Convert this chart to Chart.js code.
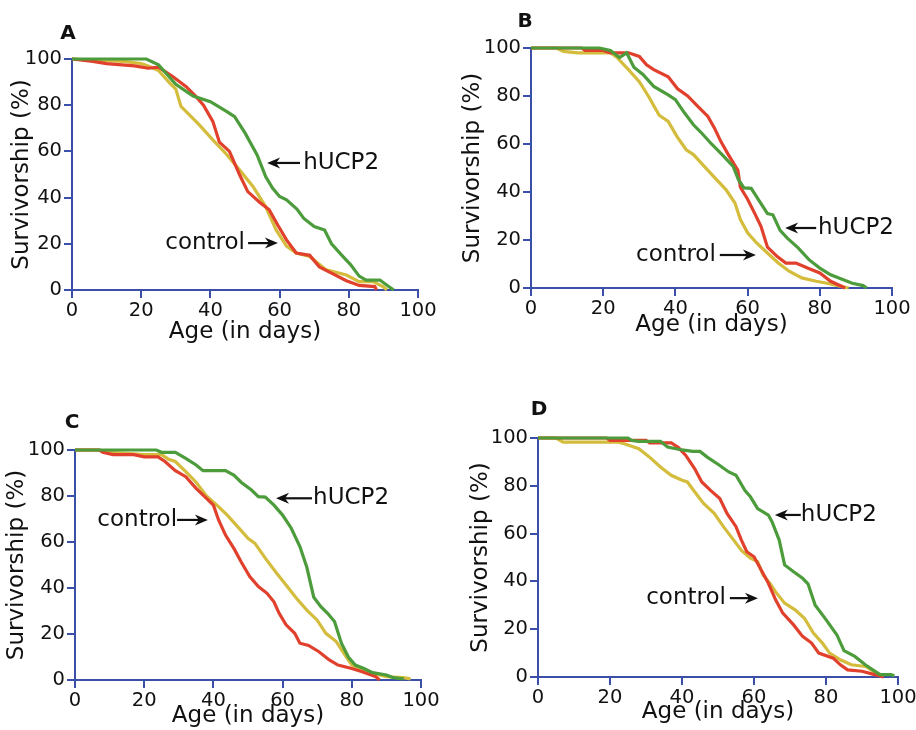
<!DOCTYPE html>
<html>
<head>
<meta charset="utf-8">
<title>Survivorship</title>
<script src="https://cdn.jsdelivr.net/npm/chart.js@4.4.1/dist/chart.umd.min.js"></script>
<style>
  body { margin: 0; background: #fff; overflow: hidden; }
  #wrap { position: relative; width: 916px; height: 730px; overflow: hidden; background: #fff; }
  canvas { position: absolute; }
</style>
</head>
<body>
<div id="wrap">
  <canvas id="chartA" width="458" height="365" style="left:0;top:0"></canvas>
  <canvas id="chartB" width="458" height="365" style="left:458px;top:0"></canvas>
  <canvas id="chartC" width="458" height="365" style="left:0;top:365px"></canvas>
  <canvas id="chartD" width="480" height="365" style="left:458px;top:365px"></canvas>
</div>
<script>
const xTicks = [0, 20, 40, 60, 80, 100];
const yTicks = [0, 20, 40, 60, 80, 100];

// panel A
const aUcpDays = [0, 21.5, 25, 30, 35, 40, 45, 47, 50, 53.5, 56, 58, 60, 62, 65, 67, 70, 73, 75, 78, 80.5, 83, 85, 89, 92, 93];
const aUcpPct = [100, 100, 97.5, 89, 84, 81.5, 77, 75, 68, 58.5, 49, 44, 40.5, 39, 35, 31, 27.5, 26, 20, 15, 11, 6, 4.3, 4.3, 1, 0];
const aCtrl1Days = [0, 6, 10, 18, 22, 25, 29, 33, 36, 38, 40.7, 42.6, 45.5, 48.4, 50.8, 54.2, 57, 59.5, 62, 64.8, 68.7, 71.5, 75.4, 79.3, 83, 87.5, 88];
const aCtrl1Pct = [100, 99, 98, 97, 96, 96.5, 92.5, 88, 83.5, 80, 73, 64, 60, 50, 42.6, 38, 34.7, 28, 21.7, 16, 15, 10, 7, 4, 2, 1.5, 0];
const aCtrl2Days = [0, 15, 20, 22, 25, 28, 30, 31.5, 36.8, 40.7, 44.5, 48.4, 52.3, 56, 59, 62, 64.8, 68.7, 73.5, 79.3, 83, 87, 90, 91];
const aCtrl2Pct = [100, 99, 98, 97, 95, 90, 87, 79.5, 71.5, 65, 59, 52, 44.8, 36, 26, 19, 16, 14.5, 8.7, 6.5, 3.6, 3.6, 1.4, 0];

// panel B
const bUcpDays = [0, 19, 22, 24.5, 26.5, 28.5, 31, 34, 38, 40, 42.5, 45, 47, 50, 53, 56, 57.5, 59, 61, 63, 65.5, 67, 69, 71, 74, 77, 80, 83, 86, 89, 92, 93];
const bUcpPct = [100, 100, 99, 96, 98, 92, 89, 84, 80.5, 78.5, 73, 68, 65, 60, 55.5, 50.7, 45, 41.7, 41.5, 36.8, 31, 30.5, 24, 20.8, 16.7, 11.8, 8.3, 5.5, 3.75, 2, 1, 0];
const bCtrl1Days = [0, 14, 15, 20, 22, 27, 30, 32, 34, 38, 40.6, 43.4, 46, 49, 50.8, 52.6, 54.5, 57.3, 58, 60, 62, 63.7, 65.5, 68.3, 70.6, 73.4, 76.6, 80, 83, 86, 87];
const bCtrl1Pct = [100, 100, 99, 99, 98, 98, 96.5, 93, 91, 88, 83, 80, 76, 71.5, 66.7, 61, 56, 49, 42, 37, 31, 25.7, 17, 13, 10.4, 10.4, 8.3, 6.25, 2.8, 0.7, 0];
const bCtrl2Days = [0, 7, 9, 13, 22, 24, 27, 30, 32.5, 35.5, 38, 40.5, 43, 45, 48, 51, 54, 56.5, 58, 60, 62.5, 65.5, 68.5, 71.5, 75, 79, 82, 85, 88];
const bCtrl2Pct = [100, 100, 98.6, 98, 98, 95.8, 91, 86, 80, 72, 69.4, 63, 57.6, 55.6, 50.7, 45.8, 41, 35.4, 28.5, 23, 18.75, 14.6, 10.4, 7, 4.2, 2.8, 2, 1, 0];

// panel C
const cUcpDays = [0, 23.5, 25, 29, 32, 35, 37, 43.5, 46, 48, 51, 53, 55, 57.5, 60, 62.5, 65, 67, 69, 71, 73, 75, 77, 79, 81, 83.5, 86, 90, 92, 95];
const cUcpPct = [100, 100, 99, 99, 96.4, 93.5, 91, 91, 89, 86, 82.6, 79.7, 79.5, 76, 71.7, 66, 58, 49, 36, 32, 29, 25.4, 16, 10, 6.5, 5, 3.2, 2.2, 1, 0.5];
const cCtrl1Days = [0, 7, 8, 11, 17, 20, 24, 26, 29, 32, 35, 38, 40, 41.5, 43.5, 46, 48, 50.5, 53, 55.5, 57.5, 59, 61, 63.5, 65, 67.5, 70.5, 73.5, 76, 80, 83, 87, 88];
const cCtrl1Pct = [100, 100, 99, 98, 98, 97, 97, 95, 91, 88.4, 83.3, 79, 76, 69.6, 63, 57, 51.4, 45, 40.6, 37.7, 34, 29, 24, 20.3, 16, 15, 12.3, 8.7, 6.5, 5, 3.6, 1.4, 0];
const cCtrl2Days = [0, 7, 10, 20, 25, 27, 29, 32, 35, 38, 41, 44, 47, 50, 52, 55, 58, 61, 64, 67, 70, 72.5, 75.5, 78, 80, 83, 86, 90, 95, 97];
const cCtrl2Pct = [100, 100, 99, 98, 98, 96, 95, 90.6, 86, 80, 76, 71.7, 66.7, 61.6, 59.4, 53, 47, 41.3, 35.5, 30.4, 26, 20.3, 16.7, 10.9, 6.5, 4.6, 2.9, 1.4, 1, 0.5];

// panel D
const dUcpDays = [0, 25, 26, 28, 34, 36, 40, 43, 45, 47, 50, 53, 55, 57.5, 59, 61, 64, 65, 67, 68.5, 71, 73.5, 75, 77, 80, 83, 85, 88, 91, 93, 95, 98, 99];
const dUcpPct = [100, 100, 99, 98.6, 98.6, 96.2, 95, 94.4, 94.4, 92, 89, 85.8, 84.4, 78, 75.4, 70.5, 67.7, 65, 57.3, 46.9, 44, 41.3, 39, 30, 24, 17.7, 11, 8.6, 5, 3, 1, 1, 0.5];
const dCtrl1Days = [0, 19, 20, 30, 31, 37, 39, 41, 43.5, 45.5, 48, 50.5, 52.5, 55, 56.5, 58, 60, 62, 64, 66, 68, 71, 73.5, 76, 78, 82, 84, 86, 90, 93, 96];
const dCtrl1Pct = [100, 100, 99, 99, 98, 98, 96, 92.8, 87.2, 81.6, 78, 74.7, 68.4, 62.9, 57.3, 52.4, 50.3, 44.8, 39.2, 32.3, 26.7, 21.8, 17, 14.2, 10, 7.9, 5.1, 3, 2.4, 1.2, 0];
const dCtrl2Days = [0, 5, 7, 22, 24, 28, 31, 34, 37, 40, 41.5, 43.5, 46, 49, 51.5, 54, 56.5, 59, 61, 62.5, 64.5, 66, 68.5, 71.5, 74, 76.5, 79, 81, 84, 87, 91, 94, 96];
const dCtrl2Pct = [100, 100, 98.3, 98.3, 97.6, 95.5, 92, 87.9, 84.4, 82.3, 81.6, 77.5, 72.6, 68.4, 62.9, 58, 53, 49.7, 48.3, 42.7, 39, 35.6, 30.9, 28, 24.6, 18.4, 14.2, 10, 7.2, 5.1, 4.4, 1.7, 0.5];

const BLUE = '#3b4fa8';
const INK = '#111111';
const GREEN = '#4c9c3c';
const RED = '#e0402c';
const YELLOW = '#d4bc3c';
const FONT = '"DejaVu Sans", sans-serif';

const zip = (xs, ys) => xs.map((x, i) => ({ x: x, y: ys[i] }));

function drawArrow(ctx, x0, x1, y) {
  const dir = Math.sign(x1 - x0);
  ctx.beginPath();
  ctx.moveTo(x0, y);
  ctx.lineTo(x1 - dir * 6, y);
  ctx.lineWidth = 2.2;
  ctx.stroke();
  ctx.beginPath();
  ctx.moveTo(x1, y);
  ctx.lineTo(x1 - dir * 13, y - 5.5);
  ctx.lineTo(x1 - dir * 9, y);
  ctx.lineTo(x1 - dir * 13, y + 5.5);
  ctx.closePath();
  ctx.fill();
}

const notesPlugin = {
  id: 'notes',
  afterDatasetsDraw(chart, args, opts) {
    const { ctx, chartArea } = chart;
    const x = chart.scales.x, y = chart.scales.y;
    ctx.save();
    ctx.fillStyle = INK;
    ctx.strokeStyle = INK;
    ctx.font = 'bold 20px ' + FONT;
    ctx.textAlign = 'center';
    ctx.textBaseline = 'alphabetic';
    ctx.fillText(opts.letter, chartArea.left + opts.letterAt[0], chartArea.top + opts.letterAt[1]);
    ctx.font = '23px ' + FONT;
    ctx.textBaseline = 'middle';
    opts.notes.forEach(n => {
      const yy = y.getPixelForValue(n.y);
      ctx.textAlign = n.align;
      ctx.fillText(n.text, x.getPixelForValue(n.textX), yy);
      drawArrow(ctx, x.getPixelForValue(n.from), x.getPixelForValue(n.to), yy);
    });
    ctx.restore();
  }
};

function makePanel(id, box, series, letter, notes) {
  new Chart(document.getElementById(id), {
    type: 'line',
    data: {
      datasets: [
        { label: 'hUCP2', data: zip(series[0], series[1]), borderColor: GREEN },
        { label: 'control', data: zip(series[2], series[3]), borderColor: RED },
        { label: 'control', data: zip(series[4], series[5]), borderColor: YELLOW }
      ].map(d => Object.assign(d, { borderWidth: 3.2, pointRadius: 0, tension: 0, fill: false, clip: false }))
    },
    options: {
      responsive: false,
      animation: false,
      layout: { padding: box.pad },
      plugins: {
        legend: { display: false },
        tooltip: { enabled: false },
        notes: { letter: letter.text, letterAt: letter.at, notes: notes }
      },
      scales: {
        x: {
          type: 'linear', min: 0, max: 100,
          afterBuildTicks: s => { s.ticks = xTicks.map(v => ({ value: v })); },
          afterFit: s => { s.height = box.xh; },
          grid: { drawOnChartArea: false, drawTicks: true, tickLength: 8, color: BLUE, lineWidth: 2 },
          border: { color: BLUE, width: 2 },
          ticks: { color: INK, font: { family: FONT, size: 19.5 }, padding: 1, maxRotation: 0 },
          title: { display: true, text: 'Age (in days)', color: INK, font: { family: FONT, size: 23 }, padding: 0 }
        },
        y: {
          type: 'linear', min: 0, max: 100,
          afterBuildTicks: s => { s.ticks = yTicks.map(v => ({ value: v })); },
          afterFit: s => { s.width = box.yw; },
          grid: { drawOnChartArea: false, drawTicks: true, tickLength: 8, color: BLUE, lineWidth: 2 },
          border: { color: BLUE, width: 2 },
          ticks: { color: INK, font: { family: FONT, size: 19.5 }, padding: 2 },
          title: { display: true, text: 'Survivorship (%)', color: INK, font: { family: FONT, size: 23 }, padding: 0 }
        }
      }
    },
    plugins: [notesPlugin]
  });
}

makePanel('chartA', { pad: { left: 8, top: 59, right: 40, bottom: 19 }, yw: 64, xh: 56 },
  [aUcpDays, aUcpPct, aCtrl1Days, aCtrl1Pct, aCtrl2Days, aCtrl2Pct],
  { text: 'A', at: [-4, -20] },
  [
    { text: 'hUCP2', align: 'left', textX: 66.8, y: 55, from: 65.9, to: 56.4 },
    { text: 'control', align: 'right', textX: 50, y: 20.3, from: 50.9, to: 59.5 }
  ]);

makePanel('chartB', { pad: { left: 1, top: 48, right: 24, bottom: 26 }, yw: 72, xh: 51 },
  [bUcpDays, bUcpPct, bCtrl1Days, bCtrl1Pct, bCtrl2Days, bCtrl2Pct],
  { text: 'B', at: [-6, -21] },
  [
    { text: 'hUCP2', align: 'left', textX: 79.5, y: 25, from: 79, to: 70.4 },
    { text: 'control', align: 'right', textX: 51.2, y: 13.75, from: 52.3, to: 62.3 }
  ]);

makePanel('chartC', { pad: { left: 3, top: 85, right: 37, bottom: 0 }, yw: 72, xh: 50 },
  [cUcpDays, cUcpPct, cCtrl1Days, cCtrl1Pct, cCtrl2Days, cCtrl2Pct],
  { text: 'C', at: [-3, -22] },
  [
    { text: 'hUCP2', align: 'left', textX: 68.8, y: 79, from: 68.5, to: 58.1 },
    { text: 'control', align: 'right', textX: 29.5, y: 69.6, from: 29.5, to: 38.4 }
  ]);

makePanel('chartD', { pad: { left: 9, top: 73, right: 40, bottom: 4 }, yw: 71, xh: 49 },
  [dUcpDays, dUcpPct, dCtrl1Days, dCtrl1Pct, dCtrl2Days, dCtrl2Pct],
  { text: 'D', at: [1, -23] },
  [
    { text: 'hUCP2', align: 'left', textX: 73, y: 67.8, from: 73, to: 65.8 },
    { text: 'control', align: 'right', textX: 52.2, y: 33, from: 53.3, to: 61.1 }
  ]);
</script>
</body>
</html>
